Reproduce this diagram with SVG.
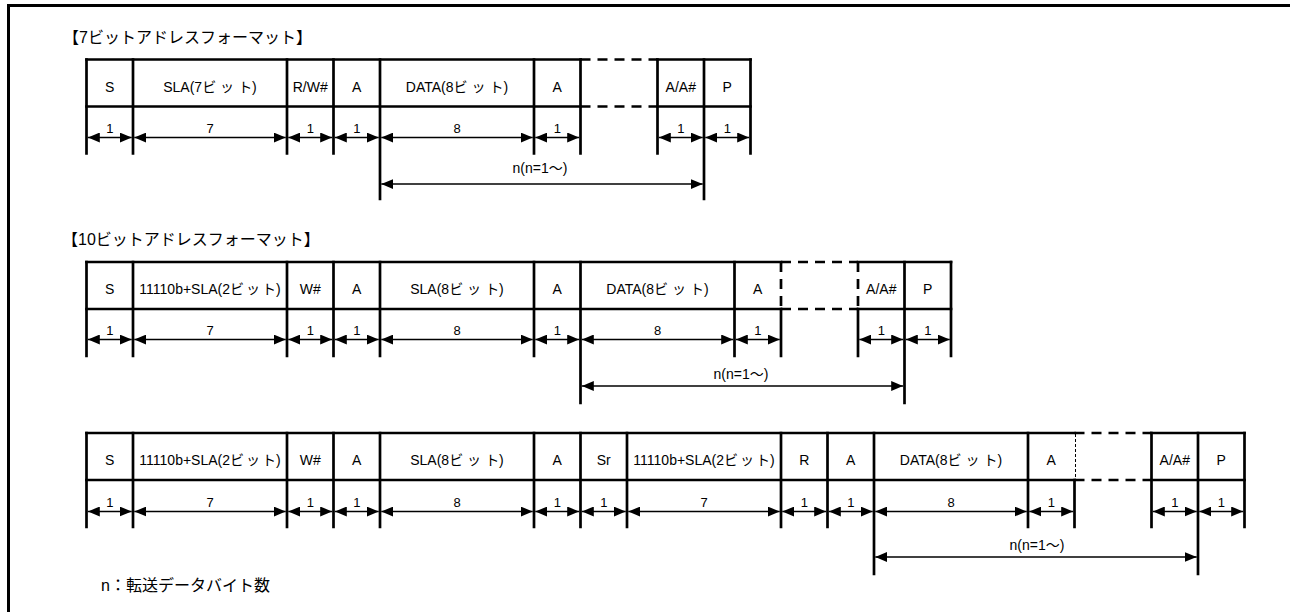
<svg xmlns="http://www.w3.org/2000/svg" width="1290" height="612" viewBox="0 0 1290 612">
<style>
.b{stroke:#000;stroke-width:2.7;fill:none;stroke-linecap:square}
.d{stroke:#000;stroke-width:2.7;fill:none;stroke-dasharray:10 7}
.f{stroke:#000;stroke-width:1;fill:none;stroke-dasharray:3 2}
.a{stroke:#000;stroke-width:1.3;fill:none;marker-start:url(#ah);marker-end:url(#ah)}
text{font-family:"Liberation Sans","Noto Sans CJK JP",sans-serif;fill:#000}
.t{font-size:14px;text-anchor:middle}
.n{font-size:13px;text-anchor:middle}
.m{font-size:14px;text-anchor:middle}
.h{font-size:16px}
.k{letter-spacing:4px}
.k2{letter-spacing:2px}
</style>
<defs>
<marker id="ah" markerUnits="userSpaceOnUse" markerWidth="12" markerHeight="10" refX="12" refY="5" orient="auto-start-reverse"><path d="M0,0 L12,5 L0,10 Z" fill="#000"/></marker>
</defs>
<rect width="1290" height="612" fill="#fff"/>
<g id="frame">
<line x1="7" y1="5.5" x2="1290" y2="5.5" stroke="#000" stroke-width="3"/>
<line x1="8.5" y1="4" x2="8.5" y2="612" stroke="#000" stroke-width="3"/>
</g>
<text id="title7" class="h" x="63" y="43">【7ビットアドレスフォーマット】</text>
<text id="title10" class="h" x="62" y="245">【10ビットアドレスフォーマット】</text>
<text id="note" class="h" x="101" y="591">n：転送データバイト数</text>

<g id="grid">
<!-- row 1 -->
<path class="b" d="M86.5,59.5H580.5M657.5,59.5H750.5M86.5,106.5H580.5M657.5,106.5H750.5"/>
<path class="d" d="M580.5,59.5H657.5M580.5,106.5H657.5"/>
<path class="b" d="M86.5,59.5V153.5M133,59.5V153.5M287,59.5V153.5M333.5,59.5V153.5M380,59.5V199M534,59.5V153.5M580.5,59.5V153.5M657.5,59.5V153.5M704,59.5V199M750.5,59.5V153.5"/>
<!-- row 2 -->
<path class="b" d="M86.5,262H781M858,262H951M86.5,309H781M858,309H951"/>
<path class="d" d="M781,262H858M781,309H858M781,262V309M858,262V309"/>
<path class="b" d="M86.5,262V356M133,262V356M287,262V356M333.5,262V356M380,262V356M534,262V356M580.5,262V403M734.5,262V356M781,309V356M858,309V356M904.5,262V403M951,262V356"/>
<!-- row 3 -->
<path class="b" d="M86.5,433H1074.5M1151.5,433H1244.5M86.5,480H1074.5M1151.5,480H1244.5"/>
<path class="d" d="M1074.5,433H1151.5M1074.5,480H1151.5"/>
<path class="f" d="M1075.5,434V479"/>
<path class="b" d="M86.5,433V527M133,433V527M287,433V527M333.5,433V527M380,433V527M534,433V527M580.5,433V527M627,433V527M781,433V527M827.5,433V527M874,433V574M1028,433V527M1074.5,480V527M1151.5,433V527M1198,433V574M1244.5,433V527"/>
</g>

<g id="r1-S"><text class="t" x="109.75" y="92">S</text></g>
<g id="r1-SLA"><text class="t" x="210" y="92">SLA(7<tspan class="k">ビッ</tspan>ト)</text></g>
<g id="r1-RW"><text class="t" x="310.25" y="92">R/W#</text></g>
<g id="r1-A1"><text class="t" x="356.75" y="92">A</text></g>
<g id="r1-DATA"><text class="t" x="457" y="92">DATA(8<tspan class="k">ビッ</tspan>ト)</text></g>
<g id="r1-A2"><text class="t" x="557.25" y="92">A</text></g>
<g id="r1-AA"><text class="t" x="680.75" y="92">A/A#</text></g>
<g id="r1-P"><text class="t" x="727.25" y="92">P</text></g>

<g id="r2-S"><text class="t" x="109.75" y="293.5">S</text></g>
<g id="r2-ADDR"><text class="t" x="210" y="293.5">11110b+SLA(2<tspan class="k2">ビッ</tspan>ト)</text></g>
<g id="r2-W"><text class="t" x="310.25" y="293.5">W#</text></g>
<g id="r2-A1"><text class="t" x="356.75" y="293.5">A</text></g>
<g id="r2-SLA"><text class="t" x="457" y="293.5">SLA(8<tspan class="k">ビッ</tspan>ト)</text></g>
<g id="r2-A2"><text class="t" x="557.25" y="293.5">A</text></g>
<g id="r2-DATA"><text class="t" x="657.5" y="293.5">DATA(8<tspan class="k">ビッ</tspan>ト)</text></g>
<g id="r2-A3"><text class="t" x="757.75" y="293.5">A</text></g>
<g id="r2-AA"><text class="t" x="881.25" y="293.5">A/A#</text></g>
<g id="r2-P"><text class="t" x="927.75" y="293.5">P</text></g>

<g id="r3-S"><text class="t" x="109.75" y="464.5">S</text></g>
<g id="r3-ADDR1"><text class="t" x="210" y="464.5">11110b+SLA(2<tspan class="k2">ビッ</tspan>ト)</text></g>
<g id="r3-W"><text class="t" x="310.25" y="464.5">W#</text></g>
<g id="r3-A1"><text class="t" x="356.75" y="464.5">A</text></g>
<g id="r3-SLA"><text class="t" x="457" y="464.5">SLA(8<tspan class="k">ビッ</tspan>ト)</text></g>
<g id="r3-A2"><text class="t" x="557.25" y="464.5">A</text></g>
<g id="r3-Sr"><text class="t" x="603.75" y="464.5">Sr</text></g>
<g id="r3-ADDR2"><text class="t" x="704" y="464.5">11110b+SLA(2<tspan class="k2">ビッ</tspan>ト)</text></g>
<g id="r3-R"><text class="t" x="804.25" y="464.5">R</text></g>
<g id="r3-A3"><text class="t" x="850.75" y="464.5">A</text></g>
<g id="r3-DATA"><text class="t" x="951" y="464.5">DATA(8<tspan class="k">ビッ</tspan>ト)</text></g>
<g id="r3-A4"><text class="t" x="1051.25" y="464.5">A</text></g>
<g id="r3-AA"><text class="t" x="1174.75" y="464.5">A/A#</text></g>
<g id="r3-P"><text class="t" x="1221.25" y="464.5">P</text></g>

<g id="connectors">
<!-- row 1 -->
<path class="a" d="M87.8,137.5H131.7"/><text class="n" x="109.75" y="133">1</text>
<path class="a" d="M134.3,137.5H285.7"/><text class="n" x="210" y="133">7</text>
<path class="a" d="M288.3,137.5H332.2"/><text class="n" x="310.25" y="133">1</text>
<path class="a" d="M334.8,137.5H378.7"/><text class="n" x="356.75" y="133">1</text>
<path class="a" d="M381.3,137.5H532.7"/><text class="n" x="457" y="133">8</text>
<path class="a" d="M535.3,137.5H579.2"/><text class="n" x="557.25" y="133">1</text>
<path class="a" d="M658.8,137.5H702.7"/><text class="n" x="680.75" y="133">1</text>
<path class="a" d="M705.3,137.5H749.2"/><text class="n" x="727.25" y="133">1</text>
<path class="a" d="M381.3,184H702.7"/><text class="m" x="540" y="173">n(n=1〜)</text>
<!-- row 2 -->
<path class="a" d="M87.8,339.5H131.7"/><text class="n" x="109.75" y="335">1</text>
<path class="a" d="M134.3,339.5H285.7"/><text class="n" x="210" y="335">7</text>
<path class="a" d="M288.3,339.5H332.2"/><text class="n" x="310.25" y="335">1</text>
<path class="a" d="M334.8,339.5H378.7"/><text class="n" x="356.75" y="335">1</text>
<path class="a" d="M381.3,339.5H532.7"/><text class="n" x="457" y="335">8</text>
<path class="a" d="M535.3,339.5H579.2"/><text class="n" x="557.25" y="335">1</text>
<path class="a" d="M581.8,339.5H733.2"/><text class="n" x="657.5" y="335">8</text>
<path class="a" d="M735.8,339.5H779.7"/><text class="n" x="757.75" y="335">1</text>
<path class="a" d="M859.3,339.5H903.2"/><text class="n" x="881.25" y="335">1</text>
<path class="a" d="M905.8,339.5H949.7"/><text class="n" x="927.75" y="335">1</text>
<path class="a" d="M581.8,386H903.2"/><text class="m" x="741" y="379">n(n=1〜)</text>
<!-- row 3 -->
<path class="a" d="M87.8,511.5H131.7"/><text class="n" x="109.75" y="507">1</text>
<path class="a" d="M134.3,511.5H285.7"/><text class="n" x="210" y="507">7</text>
<path class="a" d="M288.3,511.5H332.2"/><text class="n" x="310.25" y="507">1</text>
<path class="a" d="M334.8,511.5H378.7"/><text class="n" x="356.75" y="507">1</text>
<path class="a" d="M381.3,511.5H532.7"/><text class="n" x="457" y="507">8</text>
<path class="a" d="M535.3,511.5H579.2"/><text class="n" x="557.25" y="507">1</text>
<path class="a" d="M581.8,511.5H625.7"/><text class="n" x="603.75" y="507">1</text>
<path class="a" d="M628.3,511.5H779.7"/><text class="n" x="704" y="507">7</text>
<path class="a" d="M782.3,511.5H826.2"/><text class="n" x="804.25" y="507">1</text>
<path class="a" d="M828.8,511.5H872.7"/><text class="n" x="850.75" y="507">1</text>
<path class="a" d="M875.3,511.5H1026.7"/><text class="n" x="951" y="507">8</text>
<path class="a" d="M1029.3,511.5H1073.2"/><text class="n" x="1051.25" y="507">1</text>
<path class="a" d="M1152.8,511.5H1196.7"/><text class="n" x="1174.75" y="507">1</text>
<path class="a" d="M1199.3,511.5H1243.2"/><text class="n" x="1221.25" y="507">1</text>
<path class="a" d="M875.3,557H1196.7"/><text class="m" x="1037" y="550">n(n=1〜)</text>
</g>
</svg>
